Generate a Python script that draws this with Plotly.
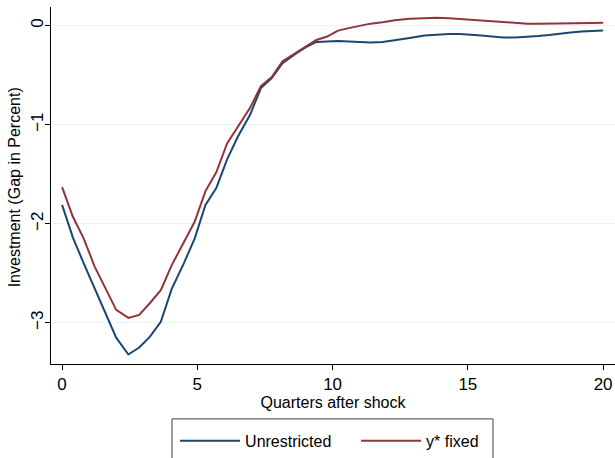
import plotly.graph_objects as go

quarters = [0, 0.4, 0.8, 1.2, 1.6, 2.0, 2.45, 2.85, 3.25, 3.65, 4.05, 4.5, 4.9, 5.3, 5.7,
            6.1, 6.5, 6.95, 7.35, 7.75, 8.15, 8.6, 9.0, 9.4, 9.8, 10.2, 10.6, 11.0, 11.4,
            11.85, 12.3, 12.85, 13.4, 13.85, 14.3, 14.7, 15.1, 15.5, 15.9, 16.3, 16.75,
            17.2, 17.6, 18.0, 18.4, 18.8, 19.2, 19.6, 20.0]

unrestricted = [-1.81, -2.14, -2.40, -2.65, -2.90, -3.15, -3.32, -3.25, -3.14, -2.99, -2.66,
                -2.40, -2.15, -1.81, -1.64, -1.35, -1.12, -0.90, -0.63, -0.53, -0.38, -0.29,
                -0.22, -0.165, -0.16, -0.155, -0.16, -0.165, -0.17, -0.165, -0.15, -0.125,
                -0.10, -0.09, -0.085, -0.085, -0.09, -0.10, -0.11, -0.12, -0.12, -0.115,
                -0.105, -0.095, -0.08, -0.07, -0.06, -0.055, -0.05]

ystar_fixed = [-1.63, -1.93, -2.15, -2.43, -2.65, -2.87, -2.95, -2.92, -2.80, -2.67, -2.42,
               -2.18, -1.98, -1.67, -1.48, -1.19, -1.02, -0.83, -0.61, -0.52, -0.36, -0.28,
               -0.21, -0.145, -0.11, -0.05, -0.025, 0.0, 0.02, 0.035, 0.055, 0.07, 0.078,
               0.08, 0.075, 0.068, 0.06, 0.05, 0.04, 0.033, 0.025, 0.02, 0.02, 0.02, 0.022,
               0.024, 0.025, 0.026, 0.028]

x_ticks = [0, 5, 10, 15, 20]
y_ticks = [0, -1, -2, -3]
y_title = "Investment (Gap in Percent)"

font = "Liberation Sans, Arial, sans-serif"

fig = go.Figure()
fig.add_trace(go.Scatter(x=quarters, y=unrestricted, mode="lines", name="Unrestricted",
                         line=dict(color="#1a476f", width=2)))
fig.add_trace(go.Scatter(x=quarters, y=ystar_fixed, mode="lines", name="y* fixed",
                         line=dict(color="#90353b", width=2)))

fig.update_layout(
    width=615, height=458,
    margin=dict(l=51, r=0, t=7, b=87),
    paper_bgcolor="white", plot_bgcolor="white",
    font=dict(family=font, color="black", size=16),
    showlegend=True,
    legend=dict(orientation="h", x=0.22, xanchor="left", y=-0.1676, yanchor="top",
                borderwidth=0, bgcolor="rgba(0,0,0,0)", font=dict(size=16),
                entrywidth=106, entrywidthmode="pixels", itemwidth=60),
    shapes=[dict(type="rect", xref="paper", yref="paper",
                 x0=0.2145, x1=0.7837, y0=-0.30, y1=-0.1538,
                 line=dict(color="#404040", width=1), fillcolor="rgba(0,0,0,0)",
                 layer="above")],
    annotations=[dict(text=y_title, xref="paper", yref="paper", x=-0.0655, y=0.495,
                      xanchor="center", yanchor="middle", textangle=-90, showarrow=False,
                      font=dict(size=16))],
)
fig.update_xaxes(
    range=[-0.41, 20.44], tickvals=x_ticks, ticks="outside", ticklen=5,
    tickcolor="black", showline=True, linecolor="black", linewidth=1,
    showgrid=False, zeroline=False, tickfont=dict(size=17), automargin=False,
    title=dict(text="Quarters after shock", font=dict(size=16), standoff=2),
)
fig.update_yaxes(
    range=[-3.416, 0.188], tickvals=y_ticks, ticktext=["0", "\u22121", "\u22122", "\u22123"],
    ticks="outside", ticklen=5, tickcolor="black", ticklabelstandoff=-5,
    showline=True, linecolor="black", linewidth=1, tickangle=-90,
    showgrid=True, gridcolor="#eaf2f3", gridwidth=1, zeroline=False,
    tickfont=dict(size=17), automargin=False,
)

fig.write_html("out.html", post_script="document.body.style.margin='0';",
               config={"displayModeBar": False})
